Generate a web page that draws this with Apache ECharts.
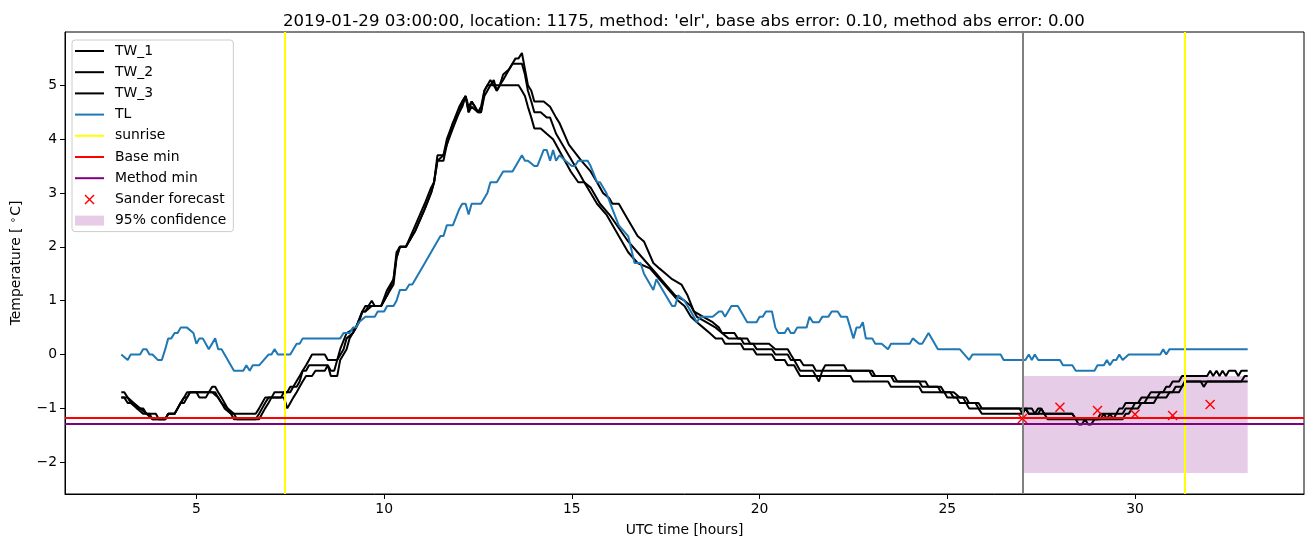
<!DOCTYPE html>
<html>
<head>
<meta charset="utf-8">
<title>TW / TL forecast</title>
<script src="https://cdn.jsdelivr.net/npm/echarts@6.0.0/dist/echarts.min.js"></script>
<style>
  html, body { margin: 0; padding: 0; background: #fff; }
  #chart { width: 1313px; height: 547px; }
</style>
</head>
<body>
<div id="chart"></div>
<script>
// road temperatures (TW_x) and air temperature (TL), [hour, degC]
var tw1 = [[3.0,-0.7],[3.08,-0.7],[3.17,-0.8],[3.33,-0.9],[3.5,-1.0],[3.67,-1.1],[3.92,-1.1],[4.0,-1.2],[4.17,-1.2],[4.25,-1.1],[4.42,-1.1],[4.5,-1.0],[4.58,-0.9],[4.67,-0.8],[4.75,-0.7],[5.33,-0.7],[5.42,-0.6],[5.5,-0.6],[5.58,-0.7],[5.67,-0.8],[5.75,-0.9],[5.83,-1.0],[5.92,-1.1],[6.58,-1.1],[6.67,-1.0],[6.75,-0.9],[6.83,-0.8],[7.0,-0.8],[7.08,-0.7],[7.42,-0.7],[7.5,-0.6],[7.67,-0.6],[7.75,-0.5],[7.83,-0.3],[7.92,-0.2],[8.0,-0.1],[8.08,0.0],[8.42,0.0],[8.5,-0.1],[8.75,-0.1],[8.83,0.1],[9.0,0.4],[9.25,0.5],[9.42,0.8],[9.5,0.9],[9.58,0.9],[9.67,1.0],[9.75,0.9],[9.92,0.9],[10.08,1.2],[10.25,1.4],[10.33,1.8],[10.42,2.0],[10.58,2.0],[10.83,2.4],[11.08,2.8],[11.25,3.1],[11.33,3.2],[11.42,3.7],[11.58,3.7],[11.67,4.0],[11.83,4.3],[12.0,4.6],[12.08,4.7],[12.17,4.8],[12.25,4.5],[12.33,4.7],[12.42,4.6],[12.5,4.5],[12.58,4.5],[12.67,4.9],[12.75,5.0],[12.83,5.1],[12.92,5.0],[13.0,4.9],[13.08,5.0],[13.17,5.2],[13.33,5.3],[13.5,5.5],[13.58,5.5],[13.67,5.6],[13.75,5.3],[13.83,5.0],[13.92,4.9],[14.0,4.7],[14.25,4.7],[14.42,4.6],[14.58,4.4],[14.67,4.3],[14.92,3.9],[15.25,3.6],[15.5,3.4],[15.67,3.2],[15.83,3.0],[16.0,2.9],[16.08,2.8],[16.25,2.8],[16.5,2.5],[16.75,2.2],[16.92,2.1],[17.17,1.7],[17.33,1.6],[17.5,1.5],[17.67,1.4],[17.92,1.3],[18.0,1.2],[18.08,1.1],[18.25,0.8],[18.5,0.7],[18.75,0.6],[18.92,0.5],[19.0,0.4],[19.33,0.4],[19.42,0.3],[19.67,0.3],[19.75,0.2],[20.25,0.2],[20.42,0.1],[20.75,0.1],[20.83,0.0],[20.92,-0.1],[21.0,-0.2],[21.08,-0.3],[21.42,-0.3],[21.5,-0.4],[21.58,-0.5],[21.67,-0.3],[21.75,-0.2],[22.25,-0.2],[22.33,-0.3],[23.0,-0.3],[23.08,-0.4],[23.5,-0.4],[23.58,-0.5],[24.25,-0.5],[24.33,-0.6],[24.75,-0.6],[24.83,-0.7],[25.08,-0.7],[25.17,-0.8],[25.42,-0.8],[25.5,-0.9],[25.75,-0.9],[25.83,-1.0],[27.25,-1.0],[27.33,-1.1],[27.42,-1.0],[27.5,-1.0],[27.58,-1.1],[28.33,-1.1],[28.42,-1.2],[29.0,-1.2],[29.08,-1.1],[29.5,-1.1],[29.58,-1.0],[29.67,-1.0],[29.75,-0.9],[30.08,-0.9],[30.17,-0.8],[30.33,-0.8],[30.42,-0.7],[30.75,-0.7],[30.83,-0.6],[30.92,-0.6],[31.0,-0.5],[31.17,-0.5],[31.25,-0.4],[31.92,-0.4],[32.0,-0.3],[32.08,-0.4],[32.17,-0.3],[32.25,-0.4],[32.33,-0.3],[32.42,-0.4],[32.5,-0.3],[32.67,-0.3],[32.75,-0.4],[32.83,-0.3],[33.0,-0.3]];

var tw2 = [[3.0,-0.8],[3.17,-0.8],[3.25,-0.9],[3.42,-1.0],[3.58,-1.0],[3.67,-1.1],[3.83,-1.2],[4.17,-1.2],[4.25,-1.1],[4.42,-1.1],[4.5,-1.0],[4.58,-0.9],[4.67,-0.9],[4.75,-0.8],[4.83,-0.7],[5.0,-0.7],[5.08,-0.8],[5.25,-0.8],[5.33,-0.7],[5.5,-0.7],[5.58,-0.8],[5.67,-0.9],[5.75,-1.0],[5.92,-1.1],[6.0,-1.2],[6.58,-1.2],[6.67,-1.1],[6.75,-1.0],[6.83,-0.9],[6.92,-0.8],[7.25,-0.8],[7.33,-0.7],[7.5,-0.7],[7.58,-0.6],[7.75,-0.4],[7.83,-0.3],[7.92,-0.3],[8.0,-0.2],[8.5,-0.2],[8.58,-0.3],[8.67,-0.3],[8.75,-0.1],[8.92,0.1],[9.0,0.3],[9.17,0.4],[9.33,0.6],[9.42,0.8],[9.5,0.8],[9.58,0.9],[9.92,0.9],[10.08,1.1],[10.25,1.4],[10.33,1.9],[10.42,2.0],[10.58,2.0],[10.83,2.3],[11.08,2.7],[11.25,3.0],[11.33,3.2],[11.42,3.6],[11.58,3.7],[11.67,3.9],[11.83,4.3],[12.0,4.5],[12.08,4.7],[12.17,4.8],[12.25,4.6],[12.33,4.7],[12.42,4.6],[12.5,4.5],[12.58,4.6],[12.67,4.9],[12.75,5.0],[12.83,5.0],[12.92,5.1],[13.0,4.9],[13.08,5.0],[13.17,5.1],[13.33,5.3],[13.42,5.4],[13.67,5.4],[13.75,5.2],[13.83,4.9],[13.92,4.7],[14.0,4.5],[14.17,4.5],[14.33,4.4],[14.42,4.4],[14.58,4.1],[15.17,3.4],[15.33,3.2],[15.5,3.1],[15.75,2.8],[16.0,2.6],[16.5,2.1],[16.75,1.9],[17.0,1.7],[17.25,1.5],[17.5,1.3],[17.75,1.1],[18.0,1.0],[18.17,0.9],[18.33,0.7],[18.58,0.6],[18.83,0.5],[19.0,0.4],[19.17,0.3],[19.5,0.3],[19.58,0.2],[19.83,0.2],[19.92,0.1],[20.33,0.1],[20.42,0.0],[20.75,0.0],[20.83,-0.1],[21.08,-0.1],[21.17,-0.2],[21.42,-0.2],[21.5,-0.3],[22.92,-0.3],[23.0,-0.4],[23.58,-0.4],[23.67,-0.5],[24.42,-0.5],[24.5,-0.6],[24.83,-0.6],[24.92,-0.7],[25.17,-0.7],[25.33,-0.8],[25.5,-0.8],[25.58,-0.9],[25.83,-0.9],[25.92,-1.0],[26.92,-1.0],[27.0,-1.1],[27.08,-1.0],[27.17,-1.1],[27.42,-1.1],[27.5,-1.0],[27.58,-1.1],[28.33,-1.1],[28.42,-1.2],[29.08,-1.2],[29.17,-1.1],[29.25,-1.2],[29.33,-1.1],[29.42,-1.2],[29.5,-1.1],[29.67,-1.1],[29.75,-1.0],[29.92,-1.0],[30.0,-0.9],[30.25,-0.9],[30.33,-0.8],[30.58,-0.8],[30.67,-0.7],[31.0,-0.7],[31.08,-0.6],[31.25,-0.6],[31.33,-0.5],[31.75,-0.5],[31.83,-0.6],[31.92,-0.5],[32.83,-0.5],[32.92,-0.4],[33.0,-0.4]];

var tw3 = [[3.0,-0.8],[3.08,-0.8],[3.17,-0.9],[3.33,-0.9],[3.42,-1.0],[3.58,-1.1],[3.75,-1.1],[3.83,-1.2],[4.17,-1.2],[4.25,-1.1],[4.42,-1.1],[4.5,-1.0],[4.58,-0.9],[4.67,-0.8],[4.75,-0.8],[4.83,-0.7],[5.42,-0.7],[5.58,-0.8],[5.67,-0.9],[5.83,-1.0],[6.0,-1.1],[6.08,-1.2],[6.67,-1.2],[6.75,-1.1],[6.83,-1.0],[6.92,-0.9],[7.0,-0.8],[7.33,-0.8],[7.42,-1.0],[7.5,-0.9],[7.58,-0.8],[7.67,-0.7],[7.75,-0.6],[7.83,-0.5],[7.92,-0.4],[8.08,-0.4],[8.17,-0.3],[8.42,-0.3],[8.5,-0.2],[8.58,-0.4],[8.75,-0.4],[8.83,-0.1],[9.0,0.1],[9.08,0.3],[9.25,0.5],[9.42,0.8],[9.5,0.8],[9.67,0.9],[9.92,0.9],[10.08,1.1],[10.25,1.3],[10.33,1.8],[10.42,2.0],[10.58,2.0],[10.83,2.3],[11.08,2.7],[11.25,3.0],[11.33,3.2],[11.42,3.6],[11.58,3.6],[11.67,3.9],[11.83,4.2],[12.0,4.5],[12.08,4.6],[12.17,4.8],[12.25,4.5],[12.33,4.6],[12.5,4.5],[12.58,4.5],[12.67,4.8],[12.75,4.9],[12.83,5.0],[13.58,5.0],[13.67,4.9],[13.75,4.8],[13.83,4.6],[13.92,4.4],[14.0,4.2],[14.17,4.2],[14.33,4.1],[14.5,4.0],[14.97,3.4],[15.17,3.2],[15.33,3.2],[15.5,3.0],[15.67,2.8],[15.92,2.6],[16.25,2.2],[16.5,1.9],[16.75,1.7],[17.08,1.6],[17.33,1.4],[17.58,1.2],[17.83,1.0],[18.0,0.9],[18.17,0.7],[18.33,0.6],[18.5,0.5],[18.67,0.4],[18.83,0.3],[19.0,0.3],[19.08,0.2],[19.5,0.2],[19.58,0.1],[19.83,0.1],[19.92,0.0],[20.33,0.0],[20.42,-0.1],[20.67,-0.1],[20.75,-0.2],[20.92,-0.2],[21.0,-0.3],[21.08,-0.4],[22.42,-0.4],[22.5,-0.5],[23.42,-0.5],[23.5,-0.6],[24.25,-0.6],[24.33,-0.7],[24.92,-0.7],[25.0,-0.8],[25.25,-0.8],[25.33,-0.9],[25.5,-0.9],[25.58,-1.0],[25.83,-1.0],[25.92,-1.1],[27.0,-1.1],[27.08,-1.0],[27.17,-1.1],[27.58,-1.1],[27.67,-1.2],[28.42,-1.2],[28.5,-1.3],[28.58,-1.3],[28.67,-1.2],[28.75,-1.3],[28.83,-1.3],[28.92,-1.2],[29.67,-1.2],[29.75,-1.1],[29.83,-1.1],[29.92,-1.0],[30.08,-1.0],[30.17,-0.9],[30.5,-0.9],[30.58,-0.8],[30.83,-0.8],[30.92,-0.7],[31.17,-0.7],[31.25,-0.6],[31.33,-0.5],[33.0,-0.5]];

var tl = [[3.0,0.0],[3.17,-0.1],[3.25,0.0],[3.5,0.0],[3.58,0.1],[3.67,0.1],[3.75,0.0],[3.83,0.0],[3.97,-0.1],[4.08,-0.1],[4.17,0.1],[4.25,0.3],[4.33,0.3],[4.42,0.4],[4.5,0.4],[4.58,0.5],[4.75,0.5],[4.92,0.4],[5.0,0.2],[5.08,0.3],[5.17,0.3],[5.33,0.1],[5.5,0.3],[5.58,0.1],[5.67,0.1],[6.0,-0.3],[6.25,-0.3],[6.33,-0.2],[6.42,-0.3],[6.5,-0.2],[6.67,-0.2],[6.92,0.0],[7.0,0.0],[7.08,0.1],[7.17,0.0],[7.5,0.0],[7.67,0.2],[7.75,0.2],[7.83,0.3],[8.83,0.3],[8.92,0.4],[9.08,0.4],[9.17,0.5],[9.25,0.5],[9.33,0.6],[9.5,0.7],[9.75,0.7],[9.83,0.8],[10.0,0.8],[10.08,0.9],[10.25,0.9],[10.33,1.0],[10.42,1.2],[10.58,1.2],[10.67,1.3],[10.75,1.3],[11.0,1.6],[11.25,1.9],[11.5,2.2],[11.58,2.2],[11.67,2.4],[11.83,2.4],[12.0,2.7],[12.08,2.8],[12.17,2.8],[12.25,2.6],[12.33,2.8],[12.58,2.8],[12.75,3.0],[12.83,3.2],[13.0,3.2],[13.17,3.4],[13.42,3.4],[13.67,3.7],[13.75,3.6],[13.83,3.6],[14.0,3.5],[14.08,3.5],[14.25,3.8],[14.33,3.8],[14.42,3.6],[14.5,3.8],[14.58,3.6],[14.67,3.7],[14.83,3.6],[15.0,3.5],[15.08,3.5],[15.17,3.6],[15.42,3.6],[15.5,3.5],[15.67,3.2],[15.75,3.2],[15.92,3.0],[16.08,2.7],[16.25,2.4],[16.5,2.2],[16.67,1.7],[16.83,1.7],[16.92,1.5],[17.17,1.2],[17.25,1.4],[17.33,1.3],[17.5,1.1],[17.67,0.9],[17.75,0.9],[17.83,1.1],[18.0,1.0],[18.17,0.8],[18.33,0.6],[18.42,0.7],[18.75,0.7],[18.92,0.8],[19.0,0.8],[19.08,0.7],[19.25,0.9],[19.42,0.9],[19.67,0.6],[19.92,0.6],[20.0,0.7],[20.08,0.7],[20.17,0.8],[20.33,0.8],[20.42,0.5],[20.5,0.4],[20.67,0.4],[20.75,0.5],[20.83,0.4],[20.92,0.4],[21.0,0.5],[21.25,0.5],[21.33,0.7],[21.42,0.6],[21.58,0.6],[21.67,0.7],[21.83,0.7],[21.92,0.8],[22.08,0.8],[22.17,0.7],[22.33,0.7],[22.5,0.3],[22.58,0.5],[22.67,0.5],[22.75,0.6],[22.83,0.3],[23.0,0.3],[23.08,0.2],[23.25,0.2],[23.42,0.1],[23.5,0.2],[24.0,0.2],[24.08,0.3],[24.25,0.2],[24.33,0.2],[24.5,0.4],[24.75,0.1],[25.33,0.1],[25.58,-0.1],[25.67,0.0],[26.42,0.0],[26.5,-0.1],[27.08,-0.1],[27.17,0.0],[27.25,-0.1],[27.33,0.0],[27.42,-0.1],[28.0,-0.1],[28.08,-0.2],[28.33,-0.2],[28.42,-0.3],[28.92,-0.3],[29.0,-0.2],[29.17,-0.2],[29.25,-0.1],[29.33,-0.2],[29.42,-0.1],[29.5,-0.1],[29.58,0.0],[29.67,-0.1],[29.83,0.0],[30.67,0.0],[30.75,0.1],[30.83,0.0],[30.92,0.1],[33.0,0.1]];

// forecast points and reference lines
var forecast = [[27,-1.19],[28,-0.98],[29,-1.04],[30,-1.11],[31,-1.13],[32,-0.93]];
var sunrise = [7.36, 31.32];
var baseMin = -1.18;
var methodMin = -1.29;
var nowHour = 27;
var confX = [27, 33];
var confY = [-2.2, -0.4];

var xTicks = [5, 10, 15, 20, 25, 30];
var yTicks = [-2, -1, 0, 1, 2, 3, 4, 5];

var FONT = 'DejaVu Sans';
var crossPath = 'path://M0,1 L1,0 L5,4 L9,0 L10,1 L6,5 L10,9 L9,10 L5,6 L1,10 L0,9 L4,5 Z';
var linePath = 'path://M0,0 L29,0 L29,2 L0,2 Z';

function minusFmt(v) {
  return v < 0 ? '\u2212' + Math.abs(v) : String(v);
}

function lineSeries(name, data, color) {
  return {
    name: name, type: 'line', data: data, symbol: 'none',
    color: color,
    lineStyle: { color: color, width: 2 },
    z: 3
  };
}

function refLine(name, color, points) {
  return {
    name: name, type: 'line', data: [], symbol: 'none',
    color: color,
    lineStyle: { color: color, width: 2 },
    markLine: {
      silent: true, symbol: ['none', 'none'],
      label: { show: false },
      lineStyle: { color: color, width: 2, type: 'solid' },
      data: points
    },
    z: 4
  };
}

var legendNames = ['TW_1', 'TW_2', 'TW_3', 'TL', 'sunrise', 'Base min', 'Method min'];

var chart = echarts.init(document.getElementById('chart'));

chart.setOption({
  animation: false,
  backgroundColor: '#fff',
  title: {
    text: "2019-01-29 03:00:00, location: 1175, method: 'elr', base abs error: 0.10, method abs error: 0.00",
    left: 278, top: 8,
    textStyle: { fontFamily: FONT, fontSize: 16.6, fontWeight: 'normal', color: '#000' }
  },
  grid: {
    left: 65, right: 9, top: 32, bottom: 53,
    show: true, borderColor: '#000', borderWidth: 1, backgroundColor: 'transparent'
  },
  legend: {
    orient: 'vertical', left: 72, top: 40,
    backgroundColor: 'rgba(255,255,255,0.8)',
    borderColor: '#cccccc', borderWidth: 1, borderRadius: 3,
    padding: [4, 7, 4, 3],
    itemWidth: 29, itemHeight: 10, itemGap: 7.2,
    textStyle: { fontFamily: FONT, fontSize: 13.9, color: '#000', lineHeight: 14, padding: [0, 0, 0, 6] },
    data: legendNames.map(function (n) { return { name: n, icon: linePath }; }).concat([
      { name: 'Sander forecast', icon: crossPath },
      { name: '95% confidence', icon: 'rect', itemStyle: { color: 'rgba(128,0,128,0.2)' } }
    ])
  },
  xAxis: {
    type: 'value', min: 1.5, max: 34.5,
    name: 'UTC time [hours]', nameLocation: 'middle', nameGap: 29,
    nameTextStyle: { fontFamily: FONT, fontSize: 13.9, color: '#000' },
    axisLine: { show: true, onZero: false, lineStyle: { color: '#000', width: 1 } },
    splitLine: { show: false },
    axisTick: { show: true, inside: false, length: 5, lineStyle: { color: '#000', width: 1 }, customValues: xTicks },
    axisLabel: { customValues: xTicks, fontFamily: FONT, fontSize: 13.9, color: '#000', margin: 8, formatter: minusFmt }
  },
  yAxis: {
    type: 'value', min: -2.59, max: 5.99,
    name: 'Temperature [ {sup|\u2218}C]', nameLocation: 'middle', nameGap: 40,
    nameTextStyle: {
      fontFamily: FONT, fontSize: 13.9, color: '#000',
      rich: { sup: { fontFamily: FONT, fontSize: 10, color: '#000', padding: [0, 1, 7, 0] } }
    },
    axisLine: { show: true, onZero: false, lineStyle: { color: '#000', width: 1 } },
    splitLine: { show: false },
    axisTick: { show: true, inside: false, length: 5, lineStyle: { color: '#000', width: 1 }, customValues: yTicks },
    axisLabel: { customValues: yTicks, fontFamily: FONT, fontSize: 13.9, color: '#000', margin: 8, formatter: minusFmt }
  },
  series: [
    lineSeries('TW_1', tw1, '#000000'),
    lineSeries('TW_2', tw2, '#000000'),
    lineSeries('TW_3', tw3, '#000000'),
    lineSeries('TL', tl, '#1f77b4'),
    refLine('sunrise', '#ffff00', sunrise.map(function (h) { return { xAxis: h }; })),
    refLine('Base min', '#ff0000', [{ yAxis: baseMin }]),
    refLine('Method min', '#800080', [{ yAxis: methodMin }]),
    refLine('now', '#808080', [{ xAxis: nowHour }]),
    {
      name: 'Sander forecast', type: 'scatter', data: forecast,
      symbol: crossPath, symbolSize: 10,
      itemStyle: { color: '#ff0000', opacity: 1 },
      z: 5
    },
    {
      name: '95% confidence', type: 'line', data: [], symbol: 'none',
      itemStyle: { color: 'rgba(128,0,128,0.2)' },
      lineStyle: { color: 'rgba(128,0,128,0.2)' },
      markArea: {
        silent: true,
        itemStyle: { color: 'rgba(128,0,128,0.2)' },
        data: [[{ xAxis: confX[0], yAxis: confY[0] }, { xAxis: confX[1], yAxis: confY[1] }]]
      },
      z: 2
    }
  ]
});
</script>
</body>
</html>
